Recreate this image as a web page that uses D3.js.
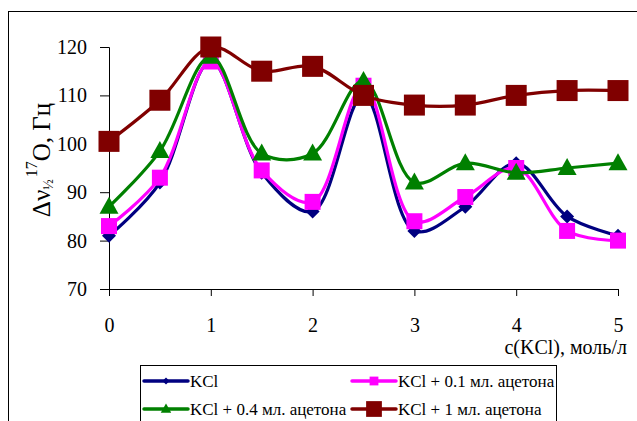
<!DOCTYPE html>
<html lang="ru">
<head>
<meta charset="utf-8">
<title>Δν½ 17O</title>
<script src="https://cdnjs.cloudflare.com/ajax/libs/d3/7.8.5/d3.min.js"></script>
<style>
  body { margin: 0; background: #fff; }
  svg text { font-family: "Liberation Serif", "Tinos", "Times New Roman", "DejaVu Serif", serif !important; fill: #000; }
</style>
</head>
<body>
<svg id="chart" width="637" height="421" font-family="Liberation Serif, DejaVu Serif, serif"></svg>
<script>
// concentration c(KCl), mol/l
var xValues = [0, 0.5, 1, 1.5, 2, 2.5, 3, 3.5, 4, 4.5, 5];
// line widths in Hz for each series
var kcl    = [81, 92, 117, 94, 86, 110, 82, 87, 96, 85, 81];
var kcl01  = [83, 93, 117, 94.5, 88, 112, 84, 89, 95, 82, 80];
var kcl04  = [87, 98.5, 118, 98, 98, 113, 92, 96, 94, 95, 96];
var kcl1   = [100.5, 109, 120, 115, 116, 110, 108, 108, 110, 111, 111];
var xTicks = [0, 1, 2, 3, 4, 5];
var yTicks = [70, 80, 90, 100, 110, 120];

var series = [
  {name: "KCl", values: kcl, color: "#000080", shape: "diamond"},
  {name: "KCl + 0.1 мл. ацетона", values: kcl01, color: "#ff00ff", shape: "square"},
  {name: "KCl + 0.4 мл. ацетона", values: kcl04, color: "#008000", shape: "triangle"},
  {name: "KCl + 1 мл. ацетона", values: kcl1, color: "#800000", shape: "bigsquare"}
];

var svg = d3.select("#chart");

// outer frame
svg.append("rect").attr("x", 8.5).attr("y", 11.5).attr("width", 640).attr("height", 420)
  .attr("fill", "none").attr("stroke", "#000").attr("stroke-width", 1);

var x = d3.scaleLinear().domain([0, 5]).range([109, 618]);
var y = d3.scaleLinear().domain([70, 120]).range([289, 47]);

// axes
var yAxis = svg.append("g").attr("transform", "translate(109,0)")
  .call(d3.axisLeft(y).tickValues(yTicks).tickSize(9).tickPadding(13).tickFormat(d3.format("d")));
var xAxis = svg.append("g").attr("transform", "translate(0,289)")
  .call(d3.axisBottom(x).tickValues(xTicks).tickSize(7).tickPadding(22).tickFormat(d3.format("d")));
[xAxis, yAxis].forEach(function(a) {
  a.attr("font-family", null);
  a.select(".domain").attr("stroke", "#000").attr("stroke-width", 1);
  a.selectAll(".tick line").attr("stroke", "#000");
  a.selectAll(".tick text").style("font-size", "20px").attr("fill", "#000");
});

// y axis title
var yt = svg.append("text")
  .attr("transform", "translate(50,160) rotate(-90)")
  .attr("text-anchor", "middle")
  .style("font-size", "25px");
yt.append("tspan").text("Δν");
yt.append("tspan").text("½").style("font-size", "14px").attr("dy", 3);
yt.append("tspan").text("17").style("font-size", "16px").attr("dy", -16).attr("dx", 2);
yt.append("tspan").text("O, Гц").attr("dy", 13);

// x axis title
svg.append("text").attr("x", 627).attr("y", 354).attr("text-anchor", "end")
  .style("font-size", "20px").text("c(KCl), моль/л");

var line = d3.line()
  .x(function(d, i) { return x(xValues[i]); })
  .y(function(d) { return y(d); })
  .curve(d3.curveCatmullRom.alpha(0.5));

function marker(g, shape, color, cx, cy) {
  if (shape === "diamond") {
    g.append("path").attr("d", "M" + cx + "," + (cy - 7) + "L" + (cx + 7) + "," + cy + "L" + cx + "," + (cy + 7) + "L" + (cx - 7) + "," + cy + "Z").attr("fill", color);
  } else if (shape === "square") {
    g.append("rect").attr("x", cx - 8).attr("y", cy - 8).attr("width", 16).attr("height", 16).attr("fill", color);
  } else if (shape === "bigsquare") {
    g.append("rect").attr("x", cx - 10.5).attr("y", cy - 10.5).attr("width", 21).attr("height", 21).attr("fill", color);
  } else if (shape === "triangle") {
    g.append("path").attr("d", "M" + cx + "," + (cy - 10) + "L" + (cx + 9.5) + "," + (cy + 7) + "L" + (cx - 9.5) + "," + (cy + 7) + "Z").attr("fill", color);
  }
}

series.forEach(function(s) {
  var g = svg.append("g");
  g.append("path").datum(s.values).attr("d", line)
    .attr("fill", "none").attr("stroke", s.color).attr("stroke-width", 3.2);
  s.values.forEach(function(v, i) { marker(g, s.shape, s.color, x(xValues[i]), y(v)); });
});

// legend
var lg = svg.append("g");
lg.append("rect").attr("x", 140.5).attr("y", 365.5).attr("width", 416).attr("height", 70)
  .attr("fill", "#fff").attr("stroke", "#000").attr("stroke-width", 1);
var legendPos = [[144, 381], [352, 381], [144, 409], [352, 409]];
var legendMarkerSize = {diamond: 0.5, square: 0.55, triangle: 0.55, bigsquare: 0.75};
series.forEach(function(s, i) {
  var p = legendPos[i];
  lg.append("line").attr("x1", p[0]).attr("x2", p[0] + 44).attr("y1", p[1]).attr("y2", p[1])
    .attr("stroke", s.color).attr("stroke-width", 3.5).attr("stroke-linecap", "round");
  var mg = lg.append("g").attr("transform", "translate(" + (p[0] + 22) + "," + p[1] + ") scale(" + legendMarkerSize[s.shape] + ")");
  marker(mg, s.shape, s.color, 0, 0);
  lg.append("text").attr("x", p[0] + 46).attr("y", p[1] + 6)
    .style("font-family", "'Liberation Serif', serif").style("font-size", "17px").text(s.name);
});
</script>
</body>
</html>
